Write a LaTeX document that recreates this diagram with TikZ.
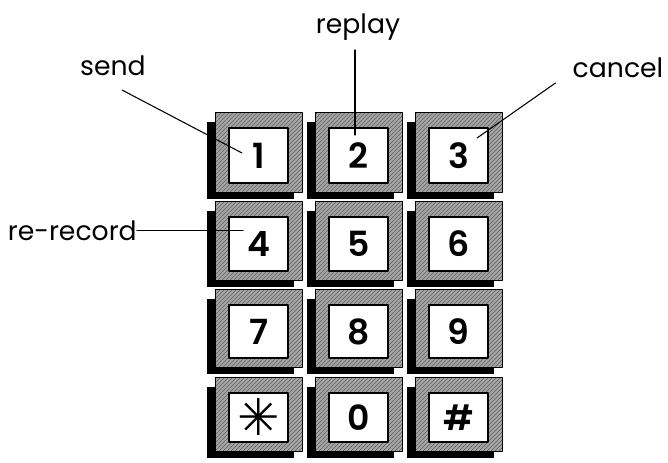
\documentclass[tikz,border=0pt]{standalone}
\usepackage{fontspec}
\setmainfont{Poppins}
\newfontfamily\symfont{DejaVu Sans}
\newfontfamily\digitfont{Poppins}[UprightFont=* SemiBold]
\usetikzlibrary{calc,patterns}
\definecolor{frame}{HTML}{A8A8A8}
\definecolor{hatch}{HTML}{5A5A5A}
\definecolor{shadow}{HTML}{000000}

\begin{document}
\begin{tikzpicture}[x=0.75pt,y=-0.75pt,line cap=round,line join=round,
  lbl/.style={font=\fontsize{20}{24}\selectfont,inner sep=0pt,anchor=base},
  digit/.style={font=\fontsize{26}{28}\selectfont\digitfont,inner sep=0pt},
  leader/.style={line width=0.8pt,black}]
  \useasboundingbox (0,0) rectangle (668,462);
  \fill[white] (0,0) rectangle (668,462);

  % ---- keypad: column x / row top / row bottom / name / label ----
  \foreach \kx/\ky/\kb/\kname/\ktext in {
      215/112/192/k1/1, 315/112/192/k2/2, 415/112/192/k3/3,
      215/201/280/k4/4, 315/201/280/k5/5, 415/201/280/k6/6,
      215/289/367/k7/7, 315/289/367/k8/8, 415/289/367/k9/9,
      215/377/451/kstar/{\symfont\fontsize{38}{38}\selectfont ✳}, 315/377/451/k0/0, 415/377/451/khash/\#}{
    % shadow on the left and at the bottom
    \fill[shadow] (\kx-8,\ky+10) rectangle (\kx,\kb+7);
    \fill[shadow] (\kx-8,\kb) rectangle (\kx+79,\kb+7);
    % hatched frame
    \fill[frame] (\kx,\ky) rectangle (\kx+87,\kb);
    \fill[pattern=north east lines,pattern color=hatch] (\kx,\ky) rectangle (\kx+87,\kb);
    \draw[black,line width=0.6pt] (\kx,\ky) rectangle (\kx+87,\kb);
    % white key face
    \draw[fill=white,line width=1pt] (\kx+14,\ky+16) rectangle (\kx+73,\kb-9);
    \node[digit] (\kname) at (\kx+43.5,0.5*\ky+0.5*\kb+3.5) {\ktext};
  }

  % ---- labels and leaders ----
  \node[lbl] (send) at (113,75) {send};
  \node[lbl] (replay) at (358,33) {replay};
  \node[lbl] (cancel) at (618,77) {cancel};
  \node[lbl,anchor=base east] (rerecord) at (137,240) {re-record};

  \coordinate (sendtip) at (242,153);
  \coordinate (replaytip) at (355,135);
  \coordinate (canceltip) at (477,138);
  \coordinate (rerecordtip) at (243,233);

  \draw[leader] ($(send.base)+(9,15)$) -- (sendtip);
  \draw[leader] ($(replay.base)+(-3,17)$) -- (replaytip);
  \draw[leader] ($(cancel.base west)+(-17,6)$) -- (canceltip);
  \draw[leader] (rerecord.east) -- (rerecord.east -| rerecordtip);
\end{tikzpicture}
\end{document}
